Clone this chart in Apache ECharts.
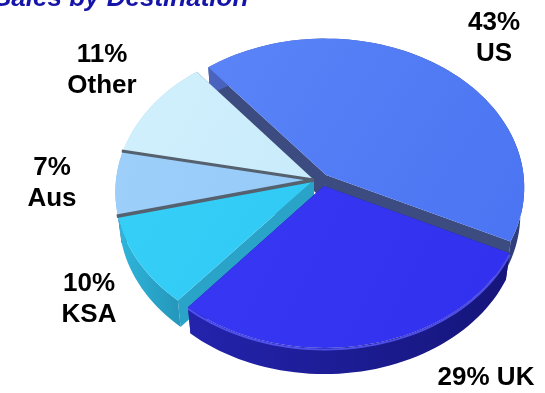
<!DOCTYPE html>
<html>
<head>
<meta charset="utf-8">
<script src="https://cdn.jsdelivr.net/npm/echarts@6/dist/echarts.min.js"></script>
<style>
  html, body { margin: 0; padding: 0; background: #ffffff; }
  #chart { width: 545px; height: 393px; }
</style>
</head>
<body>
<div id="chart"></div>
<script>
// Sales share by destination (percent)
const categories = ['US', 'UK', 'KSA', 'Aus', 'Other'];
const shares = [43, 29, 10, 7, 11];

// Look of each slice: top colour, side colour, wall colour, pull-out offset (disc units), label box
const SLICE_STYLE = {
  US:    { top: ['#5a84f7', '#4a74f2'], rim: ['#4a64c0', '#2f3d78'], wall: '#3c4b80', pull: [0.061, 0.034],
           label: { x: 494, y: 7.5, text: (v, n) => v + '%\n' + n } },
  UK:    { top: ['#3838f4', '#3030ee'], rim: ['#2323ad', '#15157a'], wall: '#1c1c90', pull: [0.05, -0.04],
           highlight: '#5c5cff',
           label: { x: 486, y: 362.5, text: (v, n) => v + '% ' + n } },
  KSA:   { top: ['#36cff7', '#30c9f5'], rim: ['#2fb6dc', '#2496ba'], wall: '#2aa3c8', pull: [0, 0],
           label: { x: 89, y: 268.5, text: (v, n) => v + '%\n' + n } },
  Aus:   { top: ['#9dcffa', '#96caf8'], rim: ['#86b9e6', '#7aaad6'], wall: '#55616e', pull: [0, 0],
           edge: '#55616e',
           label: { x: 52, y: 152.5, text: (v, n) => v + '%\n' + n } },
  Other: { top: ['#d2f0fd', '#c8ebfb'], rim: ['#b6dcee', '#a4cde2'], wall: '#55616e', pull: [0, 0],
           label: { x: 102, y: 39.5, text: (v, n) => v + '%\n' + n } }
};

// Perspective view of the pie disc
const VIEW = { cx: 314, cy: 180, scale: 198, k: 0.1205, tilt: 48.4 * Math.PI / 180, depth: 0.21, start: 129 };

function project(X, Y, Z) {
  const s = Math.sin(VIEW.tilt), c = Math.cos(VIEW.tilt);
  const d = 1 + VIEW.k * (Y * c - Z * s);
  return [VIEW.cx + VIEW.scale * X / d, VIEW.cy - VIEW.scale * (Y * s + Z * c) / d];
}

const total = shares.reduce((a, b) => a + b, 0);
const LABEL_FONT = 'bold 26px "Liberation Sans", Arial, sans-serif';

function renderItem(params, api) {
  const i = params.dataIndex;
  const value = api.value(0);
  const name = categories[i];
  const st = SLICE_STYLE[name];
  let before = 0;
  for (let j = 0; j < i; j++) before += shares[j];
  const rad = Math.PI / 180;
  const aHi = VIEW.start - before / total * 360;
  const aLo = aHi - value / total * 360;
  const ox = st.pull[0], oy = st.pull[1];
  const h = VIEW.depth;

  const n = Math.max(8, Math.round((aHi - aLo) / 2));
  const topArc = [], botArc = [];
  for (let t = 0; t <= n; t++) {
    const a = (aLo + (aHi - aLo) * t / n) * rad;
    const X = ox + Math.cos(a), Y = oy + Math.sin(a);
    topArc.push(project(X, Y, 0));
    botArc.push(project(X, Y, -h));
  }
  const apexTop = project(ox, oy, 0);
  const apexBot = project(ox, oy, -h);

  const children = [];
  // outer side band
  children.push({
    type: 'polygon', z2: 2,
    shape: { points: topArc.concat(botArc.slice().reverse()) },
    style: {
      fill: new echarts.graphic.LinearGradient(0, 0, 1, 0, [
        { offset: 0, color: st.rim[0] }, { offset: 1, color: st.rim[1] }
      ])
    }
  });
  // radial walls, nearer walls painted over farther ones
  [[0, aLo], [n, aHi]].forEach(([idx, a]) => {
    const nearness = 0.5 - 0.45 * (oy + 0.5 * Math.sin(a * rad));
    children.push({
      type: 'polygon', z2: 1 + nearness * 0.9,
      shape: { points: [apexTop, topArc[idx], botArc[idx], apexBot] },
      style: { fill: st.wall }
    });
  });
  // top face
  children.push({
    type: 'polygon', z2: 10,
    shape: { points: [apexTop].concat(topArc) },
    style: {
      fill: new echarts.graphic.LinearGradient(0, 0, 1, 1, [
        { offset: 0, color: st.top[0] }, { offset: 1, color: st.top[1] }
      ])
    }
  });
  if (st.highlight) {
    children.push({
      type: 'polyline', z2: 11,
      shape: { points: topArc.map(p => [p[0], p[1] + 1.5]) },
      style: { stroke: st.highlight, lineWidth: 2, fill: null, opacity: 0.8 }
    });
  }
  if (st.edge) {
    [aLo, aHi].forEach((a, k) => {
      const r = 1.006;
      const end = project(ox + r * Math.cos(a * rad), oy + r * Math.sin(a * rad), 0);
      children.push({
        type: 'line', z2: 12,
        shape: { x1: apexTop[0], y1: apexTop[1], x2: end[0], y2: end[1] },
        style: { stroke: st.edge, lineWidth: k === 0 ? 3 : 3.5 }
      });
    });
  }
  // value label
  children.push({
    type: 'text', z2: 20,
    x: st.label.x, y: st.label.y,
    style: {
      text: st.label.text(value, name),
      font: LABEL_FONT, fill: '#000000',
      align: 'center', verticalAlign: 'top', lineHeight: 31
    }
  });
  return { type: 'group', children: children };
}

const chart = echarts.init(document.getElementById('chart'), null, { renderer: 'canvas' });
chart.setOption({
  animation: false,
  backgroundColor: '#ffffff',
  title: {
    text: 'Sales by Destination',
    left: -6, top: -14,
    padding: 0,
    textStyle: {
      fontFamily: '"Liberation Sans", Arial, sans-serif',
      fontSize: 26, fontWeight: 'bold', fontStyle: 'italic', color: '#1414a8'
    }
  },
  series: [{
    type: 'custom',
    coordinateSystem: 'none',
    renderItem: renderItem,
    data: shares.map((v, i) => ({ name: categories[i], value: [v] }))
  }]
});
</script>
</body>
</html>
